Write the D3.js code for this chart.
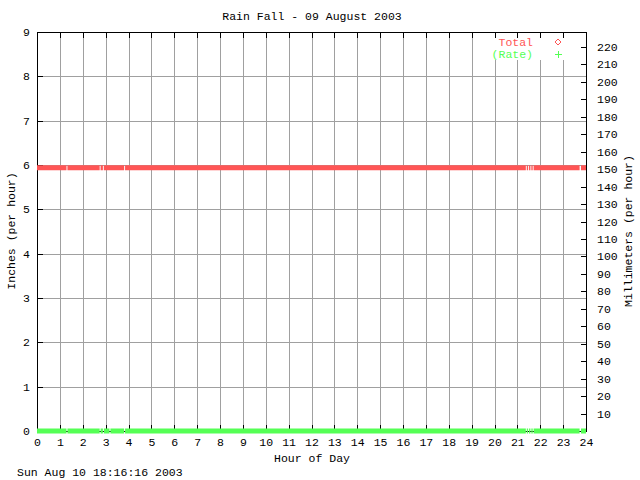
<!DOCTYPE html>
<html><head><meta charset="utf-8">
<script src="https://cdn.jsdelivr.net/npm/d3@7"></script>
<style>
html,body{margin:0;padding:0;background:#fff;}
text{font-family:"Liberation Mono","DejaVu Sans Mono",monospace;font-size:11.5px;fill:#000;}
</style></head>
<body>
<script>
// ---- data ----
const title = "Rain Fall - 09 August 2003";
const timestamp = "Sun Aug 10 18:16:16 2003";
const xLabel = "Hour of Day";
const yLabel = "Inches (per hour)";
const y2Label = "Millimeters (per hour)";
const hourTicks = d3.range(0, 25);
const inchTicks = d3.range(0, 10);
const mmTicks = [10,20,30,40,50,60,70,80,90,100,110,120,130,140,150,160,170,180,190,200,210,220];
const seriesNames = ["Total", "(Rate)"];
const seriesColors = ["#ff5555", "#55ff55"];
// sample times (hours); null values mark missing readings
const hours =       [0, 1.29, 1.31, 1.33, 2.74, 2.76, 2.78, 2.88, 2.90, 2.92, 3.17, 3.19, 3.21, 3.81, 3.83, 3.85, 21.37, 21.39, 21.41, 21.47, 21.49, 21.51, 21.57, 21.59, 21.61, 21.67, 21.69, 21.71, 23.72, 23.75, 23.78, 24];
const totalInches = [5.94, 5.94, null, 5.94, 5.94, null, 5.94, 5.94, null, 5.94, 5.94, 5.94, 5.94, 5.94, null, 5.94, 5.94, null, 5.94, 5.94, null, 5.94, 5.94, null, 5.94, 5.94, null, 5.94, 5.94, null, 5.94, 5.94];
const rateInches =  [0, 0, null, 0, 0, null, 0, 0, null, 0, 0, null, 0, 0, null, 0, 0, null, 0, 0, null, 0, 0, null, 0, 0, null, 0, 0, null, 0, 0];

// ---- layout ----
const W = 640, H = 480;
const L = 37, R = 586, T = 32, B = 431;
const svg = d3.select("body").append("svg").attr("width", W).attr("height", H);
svg.append("rect").attr("width", W).attr("height", H).attr("fill", "#fff");

const x = d3.scaleLinear().domain([0, 24]).range([L, R]);
const y = d3.scaleLinear().domain([0, 9]).range([B, T]);
const y2 = d3.scaleLinear().domain([0, 9 * 25.4]).range([B, T]);

const g = svg.append("g").attr("shape-rendering", "crispEdges");
// grid
g.selectAll("line.vg").data(hourTicks.slice(1, -1)).enter().append("line")
  .attr("x1", d => Math.round(x(d)) + 0.5).attr("x2", d => Math.round(x(d)) + 0.5)
  .attr("y1", T).attr("y2", B).attr("stroke", "#a0a0a0");
g.selectAll("line.hg").data(inchTicks.slice(1, -1)).enter().append("line")
  .attr("y1", d => Math.round(y(d)) + 0.5).attr("y2", d => Math.round(y(d)) + 0.5)
  .attr("x1", L).attr("x2", R).attr("stroke", "#a0a0a0");

// legend background
g.append("rect").attr("x", 486).attr("y", T + 1).attr("width", R - 486).attr("height", 27).attr("fill", "#fff");

// border
g.append("rect").attr("x", L + 0.5).attr("y", T + 0.5).attr("width", R - L).attr("height", B - T)
  .attr("fill", "none").attr("stroke", "#000");

// ticks (inward)
const tk = 6;
hourTicks.forEach(h => {
  const px = Math.round(x(h)) + 0.5;
  g.append("line").attr("x1", px).attr("x2", px).attr("y1", B).attr("y2", B - tk).attr("stroke", "#000");
  g.append("line").attr("x1", px).attr("x2", px).attr("y1", T).attr("y2", T + tk).attr("stroke", "#000");
});
inchTicks.forEach(v => {
  const py = Math.round(y(v)) + 0.5;
  g.append("line").attr("x1", L).attr("x2", L + tk).attr("y1", py).attr("y2", py).attr("stroke", "#000");
});
mmTicks.forEach(v => {
  const py = Math.round(y2(v)) + 0.5;
  g.append("line").attr("x1", R - tk + 1).attr("x2", R + 1).attr("y1", py).attr("y2", py).attr("stroke", "#000");
});

// tick labels
svg.selectAll("text.xt").data(hourTicks).enter().append("text")
  .attr("x", d => x(d) + 0.5).attr("y", 446).attr("text-anchor", "middle").text(d => d);
svg.selectAll("text.yt").data(inchTicks).enter().append("text")
  .attr("x", 30).attr("y", d => y(d) + 4).attr("text-anchor", "end").text(d => d);
svg.selectAll("text.y2t").data(mmTicks).enter().append("text")
  .attr("x", 597).attr("y", d => y2(d) + 4).attr("text-anchor", "start").text(d => d);

// series lines
const line = d3.line().defined(d => d[1] != null).x(d => x(d[0])).y(d => y(d[1]));
[totalInches, rateInches].forEach((vals, i) => {
  svg.append("path").datum(hours.map((h, k) => [h, vals[k]]))
    .attr("d", line).attr("fill", "none").attr("stroke", seriesColors[i])
    .attr("stroke-width", 5);
});

// legend
const legY = [42, 54];
seriesNames.forEach((n, i) => {
  svg.append("text").attr("x", 533).attr("y", legY[i] + 4).attr("text-anchor", "end")
    .style("fill", seriesColors[i]).text(n);
});
svg.append("path").attr("d", "M558,39 L561,42 L558,45 L555,42 Z").attr("fill", "none").attr("stroke", seriesColors[0]);
svg.append("path").attr("d", "M558.5,51 L558.5,58 M555,54.5 L562,54.5").attr("fill", "none").attr("stroke", seriesColors[1]).attr("shape-rendering", "crispEdges");

// titles
svg.append("text").attr("x", 312).attr("y", 20).attr("text-anchor", "middle").text(title);
svg.append("text").attr("x", 312).attr("y", 462).attr("text-anchor", "middle").text(xLabel);
svg.append("text").attr("transform", "translate(15,231) rotate(-90)").attr("text-anchor", "middle").text(yLabel);
svg.append("text").attr("transform", "translate(632,231) rotate(-90)").attr("text-anchor", "middle").text(y2Label);
svg.append("text").attr("x", 17).attr("y", 476).text(timestamp);
</script>
</body></html>
